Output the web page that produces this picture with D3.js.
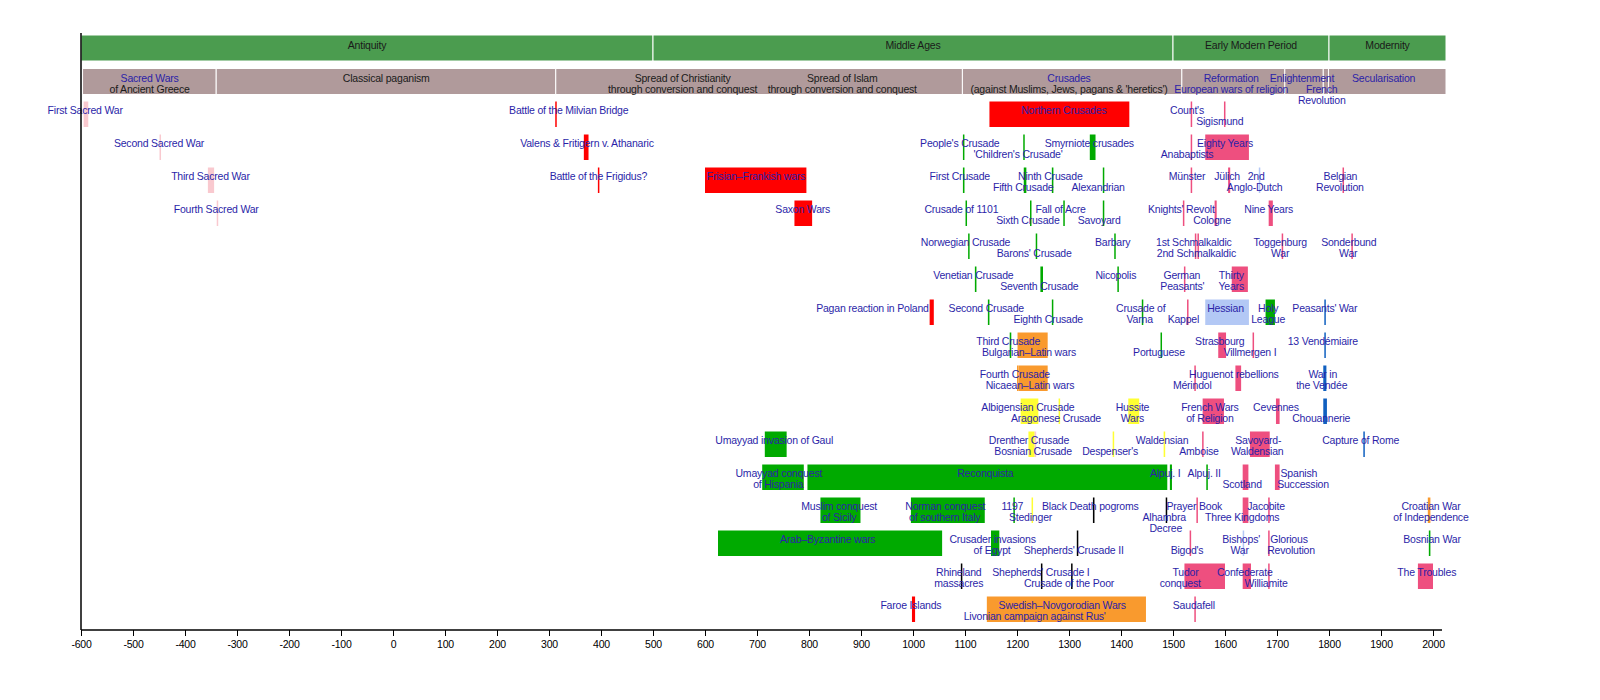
<!DOCTYPE html>
<html><head><meta charset="utf-8">
<script src="https://cdn.jsdelivr.net/npm/d3@7"></script>
<style>body{margin:0;background:#fff}svg{display:block}text{font-family:"Liberation Sans",Arial,sans-serif;font-size:10.5px;letter-spacing:-0.2px}</style>
</head><body><svg id="c" width="1600" height="700"></svg>
<script>
const eras = [["Antiquity",-600,500],["Middle Ages",500,1500],["Early Modern Period",1500,1800],["Modernity",1800,2025]];
const themes = [[-597,-340],[-340,313],[313,1095],[1095,1517],[1517,1715],[1715,1789],[1789,1799],[1799,2025]];
// [text, centerYear, line, blue?]
const themeLabels = [["Sacred Wars",-468,0,1],["of Ancient Greece",-468,1,0],["Classical paganism",-13,0,0],
 ["Spread of Christianity",557,0,0],["through conversion and conquest",557,1,0],["Spread of Islam",864,0,0],["through conversion and conquest",864,1,0],
 ["Crusades",1300,0,1],["(against Muslims, Jews, pagans & 'heretics')",1300,1,0],
 ["Reformation",1612,0,1],["European wars of religion",1612,1,1],["Enlightenment",1748,0,1],["French",1786,1,1],["Revolution",1786,2,1],["Secularisation",1905,0,1]];
const C = {red:"#ff0000",pink:"#ee4f7f",lpink:"#f9c9cf",green:"#00aa00",orange:"#f99a2e",yellow:"#ffff33",lblue:"#b3c8f5",blue:"#1060c0",black:"#000000"};
// [start, end, row, colour]
const bars = [
 [-595,-586,0,"lpink"],[312,313,0,"red"],[1147,1416,0,"red"],[1534,1536,0,"pink"],[1598,1599,0,"pink"],
 [-449,-448,1,"lpink"],[367,376,1,"red"],[1096,1097,1,"green"],[1212,1213,1,"green"],[1340,1351,1,"green"],[1534,1535,1,"pink"],[1562,1646,1,"pink"],
 [-356,-344,2,"lpink"],[394,395,2,"red"],[600,795,2,"red"],[1096,1099,2,"green"],[1213,1218,2,"green"],[1267,1270,2,"green"],[1365,1366,2,"green"],[1534,1535,2,"pink"],[1606,1610,2,"pink"],[1665,1667,2,"lblue"],[1826,1828,2,"pink"],
 [-339,-338,3,"lpink"],[772,806,3,"red"],[1101,1103,3,"green"],[1225,1227,3,"green"],[1289,1291,3,"green"],[1365,1366,3,"green"],[1519,1521,3,"pink"],[1580,1584,3,"pink"],[1684,1692,3,"pink"],
 [1106,1108,4,"green"],[1236,1238,4,"green"],[1387,1388,4,"green"],[1542,1544,4,"pink"],[1547,1549,4,"pink"],[1709,1710,4,"pink"],[1843,1844,4,"pink"],
 [1119,1122,5,"green"],[1245,1250,5,"green"],[1393,1394,5,"green"],[1521,1522,5,"pink"],[1613,1644,5,"pink"],
 [1032,1040,6,"red"],[1144,1147,6,"green"],[1267,1269,6,"green"],[1440,1442,6,"green"],[1527,1529,6,"pink"],[1562,1646,6,"lblue"],[1678,1696,6,"green"],[1791,1793,6,"blue"],
 [1186,1189,7,"green"],[1201,1259,7,"orange"],[1476,1477,7,"green"],[1587,1602,7,"pink"],[1653,1654,7,"pink"],[1791,1792,7,"blue"],
 [1200,1201,8,"orange"],[1203,1259,8,"orange"],[1541,1542,8,"pink"],[1620,1631,8,"pink"],[1789,1795,8,"blue"],
 [1207,1241,9,"yellow"],[1280,1282,9,"yellow"],[1414,1435,9,"yellow"],[1557,1598,9,"pink"],[1698,1705,9,"pink"],[1789,1796,9,"blue"],
 [715,757,10,"green"],[1222,1234,10,"yellow"],[1234,1236,10,"lpink"],[1384,1385,10,"yellow"],[1482,1485,10,"yellow"],[1556,1557,10,"pink"],[1648,1686,10,"pink"],[1866,1867,10,"blue"],
 [710,790,11,"green"],[797,1489,11,"green"],[1494,1498,11,"green"],[1564,1567,11,"green"],[1634,1645,11,"pink"],[1696,1705,11,"pink"],
 [822,899,12,"green"],[996,1138,12,"green"],[1193,1195,12,"green"],[1228,1230,12,"yellow"],[1346,1349,12,"black"],[1486,1488,12,"black"],[1545,1546,12,"pink"],[1634,1645,12,"pink"],[1683,1686,12,"pink"],[1990,1995,12,"orange"],
 [625,1056,13,"green"],[1150,1166,13,"green"],[1315,1317,13,"black"],[1532,1533,13,"pink"],[1634,1635,13,"lblue"],[1683,1685,13,"pink"],[1992,1995,13,"green"],
 [1092,1093,14,"black"],[1246,1248,14,"black"],[1304,1306,14,"black"],[1522,1600,14,"pink"],[1634,1650,14,"pink"],[1683,1685,14,"pink"],[1971,2000,14,"pink"],
 [998,1004,15,"red"],[1142,1448,15,"orange"],[1541,1542,15,"pink"]
];
// [text, centerYear, row, line]
const labels = [
 ["First Sacred War",-592,0,0],["Battle of the Milvian Bridge",338,0,0],["Northern Crusades",1290,0,0],["Count's",1527,0,0],["Sigismund",1590,0,1],
 ["Second Sacred War",-450,1,0],["Valens & Fritigern v. Athanaric",373,1,0],["People's Crusade",1090,1,0],["'Children's Crusade'",1202,1,1],["Smyrniote crusades",1339,1,0],["Anabaptists",1527,1,1],["Eighty Years",1600,1,0],
 ["Third Sacred War",-351,2,0],["Battle of the Frigidus?",395,2,0],["Frisian–Frankish wars",698,2,0],["First Crusade",1090,2,0],["Ninth Crusade",1264,2,0],["Fifth Crusade",1212,2,1],["Alexandrian",1356,2,1],["Münster",1527,2,0],["Jülich",1604,2,0],["2nd",1660,2,0],["Anglo-Dutch",1657,2,1],["Belgian",1822,2,0],["Revolution",1821,2,1],
 ["Fourth Sacred War",-340,3,0],["Saxon Wars",788,3,0],["Crusade of 1101",1093,3,0],["Sixth Crusade",1221,3,1],["Fall of Acre",1284,3,0],["Savoyard",1358,3,1],["Knights' Revolt",1516,3,0],["Cologne",1575,3,1],["Nine Years",1684,3,0],
 ["Norwegian Crusade",1101,4,0],["Barons' Crusade",1233,4,1],["Barbary",1384,4,0],["1st Schmalkaldic",1540,4,0],["2nd Schmalkaldic",1545,4,1],["Toggenburg",1706,4,0],["War",1706,4,1],["Sonderbund",1838,4,0],["War",1837,4,1],
 ["Venetian Crusade",1116,5,0],["Seventh Crusade",1243,5,1],["Nicopolis",1390,5,0],["German",1517,5,0],["Peasants'",1518,5,1],["Thirty",1612,5,0],["Years",1612,5,1],
 ["Pagan reaction in Poland",922,6,0],["Second Crusade",1141,6,0],["Eighth Crusade",1260,6,1],["Crusade of",1438,6,0],["Varna",1436,6,1],["Kappel",1520,6,1],["Hessian",1601,6,0],["Holy",1683,6,0],["League",1683,6,1],["Peasants' War",1792,6,0],
 ["Third Crusade",1183,7,0],["Bulgarian–Latin wars",1223,7,1],["Portuguese",1473,7,1],["Strasbourg",1590,7,0],["Villmergen I",1648,7,1],["13 Vendémiaire",1788,7,0],
 ["Fourth Crusade",1196,8,0],["Nicaean–Latin wars",1225,8,1],["Mérindol",1537,8,1],["Huguenot rebellions",1617,8,0],["War in",1788,8,0],["the Vendée",1786,8,1],
 ["Albigensian Crusade",1221,9,0],["Aragonese Crusade",1275,9,1],["Hussite",1422,9,0],["Wars",1422,9,1],["French Wars",1571,9,0],["of Religion",1571,9,1],["Cevennes",1698,9,0],["Chouannerie",1785,9,1],
 ["Umayyad invasion of Gaul",733,10,0],["Drenther Crusade",1223,10,0],["Bosnian Crusade",1231,10,1],["Despenser's",1379,10,1],["Waldensian",1479,10,0],["Amboise",1550,10,1],["Savoyard-",1664,10,0],["Waldensian",1662,10,1],["Capture of Rome",1861,10,0],
 ["Umayyad conquest",742,11,0],["of Hispania",741,11,1],["Reconquista",1139,11,0],["Alpuj. I",1485,11,0],["Alpuj. II",1560,11,0],["Scotland",1633,11,1],["Spanish",1742,11,0],["Succession",1750,11,1],
 ["Muslim conquest",858,12,0],["of Sicily",858,12,1],["Norman conquest",1062,12,0],["of southern Italy",1061,12,1],["1197",1191,12,0],["Stedinger",1226,12,1],["Black Death pogroms",1341,12,0],["Alhambra",1483,12,1],["Decree",1486,12,2],["Prayer Book",1541,12,0],["Three Kingdoms",1633,12,1],["Jacobite",1679,12,0],["Croatian War",1996,12,0],["of Independence",1996,12,1],
 ["Arab–Byzantine wars",836,13,0],["Crusader invasions",1153,13,0],["of Egypt",1152,13,1],["Shepherds' Crusade II",1309,13,1],["Bigod's",1527,13,1],["Bishops'",1631,13,0],["War",1628,13,1],["Glorious",1723,13,0],["Revolution",1727,13,1],["Bosnian War",1998,13,0],
 ["Rhineland",1088,14,0],["massacres",1088,14,1],["Shepherds' Crusade I",1246,14,0],["Crusade of the Poor",1300,14,1],["Tudor",1524,14,0],["conquest",1514,14,1],["Confederate",1638,14,0],["Williamite",1679,14,1],["The Troubles",1988,14,0],
 ["Faroe Islands",996,15,0],["Swedish–Novgorodian Wars",1287,15,0],["Livonian campaign against Rus'",1234,15,1],["Saudafell",1540,15,0]
];
const ticks = d3.range(-600,2001,100);

const svg = d3.select("#c");
const x = d3.scaleLinear().domain([-600,2025]).range([81,1446]);
const rowTop = r => 101.5 + r*33, barH = 25.5;
const blue = "#2b1fa8";

const g1 = svg.append("g");
g1.selectAll("rect").data(eras).join("rect").attr("x",d=>x(d[1])).attr("width",d=>x(d[2])-x(d[1])).attr("y",35).attr("height",26)
 .attr("fill","#4b9c4f").attr("stroke","#fff").attr("stroke-width",1);
g1.selectAll("text").data(eras).join("text").attr("x",d=>x((d[1]+d[2])/2)).attr("y",44.5).attr("text-anchor","middle").attr("dominant-baseline","central").attr("fill","#1a1a1a").text(d=>d[0]);

const g2 = svg.append("g");
g2.selectAll("rect").data(themes).join("rect").attr("x",d=>x(d[0])).attr("width",d=>x(d[1])-x(d[0])).attr("y",68.5).attr("height",26)
 .attr("fill","#b09a9b").attr("stroke","#fff").attr("stroke-width",1);
g2.selectAll("text").data(themeLabels).join("text").attr("x",d=>x(d[1])).attr("y",d=>77.5+d[2]*11).attr("text-anchor","middle").attr("dominant-baseline","central")
 .attr("fill",d=>d[3]?blue:"#1a1a1a").text(d=>d[0]);

svg.append("g").selectAll("rect").data(bars).join("rect")
 .attr("x",d=>x(d[0])).attr("width",d=>Math.max(1.5,x(d[1])-x(d[0]))).attr("y",d=>rowTop(d[2])).attr("height",barH).attr("fill",d=>C[d[3]]);

svg.append("g").selectAll("text").data(labels).join("text")
 .attr("x",d=>x(d[1])).attr("y",d=>rowTop(d[2])+8.5+d[3]*11).attr("text-anchor","middle").attr("dominant-baseline","central").attr("fill",blue).text(d=>d[0]);

const ax = d3.axisBottom(x).tickValues(ticks).tickFormat(d=>String(d)).tickSizeOuter(0).tickSize(6);
const axg = svg.append("g").attr("transform","translate(0,630)").call(ax);
axg.select(".domain").attr("d",`M${x(-600)},0H1442`).attr("stroke-width",1.5);
axg.selectAll("text").attr("font-size","10.5px").attr("fill","#000").attr("font-family","Liberation Sans, Arial").attr("dy","0.9em");
svg.append("line").attr("x1",81).attr("x2",81).attr("y1",33).attr("y2",630).attr("stroke","#000").attr("stroke-width",1.5);
</script></body></html>
